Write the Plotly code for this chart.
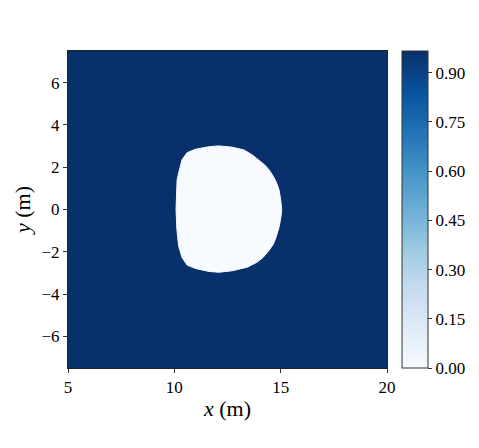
import plotly.graph_objects as go

# Domain extents (m)
x_edges = [5.0, 20.0]
y_edges = [-7.5, 7.5]

# Field level outside the body and inside it
outside_level = 0.966
inside_level = 0.0

# Boundary of the low-valued region (m)
boundary_x = [10.08, 10.09, 10.13, 10.20, 10.36, 10.60, 10.99, 11.62, 12.09, 12.72,
              13.27, 13.67, 13.98, 14.25, 14.45, 14.66, 14.81, 14.92, 15.00, 15.05,
              15.01, 14.92, 14.78, 14.66, 14.45, 14.18, 13.90, 13.43, 12.72, 12.09,
              11.62, 10.99, 10.60, 10.36, 10.20, 10.12, 10.08]
boundary_y = [0.00, 0.94, 1.40, 1.72, 2.35, 2.69, 2.85, 2.97, 3.01, 2.95,
              2.82, 2.58, 2.35, 2.11, 1.88, 1.56, 1.25, 0.94, 0.47, 0.00,
              -0.38, -0.85, -1.32, -1.63, -1.94, -2.26, -2.49, -2.73, -2.90, -2.97,
              -2.93, -2.79, -2.63, -2.27, -1.72, -0.94, 0.00]

# Colorbar ticks
cbar_ticks = [0.0, 0.15, 0.30, 0.45, 0.60, 0.75, 0.90]
x_ticks = [5, 10, 15, 20]
y_ticks = [-6, -4, -2, 0, 2, 4, 6]

blues = ["#f7fbff", "#deebf7", "#c6dbef", "#9ecae1", "#6baed6",
         "#4292c6", "#2171b5", "#08519c", "#08306b"]
colorscale = [[i / (len(blues) - 1), c] for i, c in enumerate(blues)]

font_family = "Liberation Serif"

fig = go.Figure()
fig.add_trace(go.Heatmap(
    x=x_edges, y=y_edges,
    z=[[outside_level, outside_level], [outside_level, outside_level]],
    zmin=inside_level, zmax=outside_level,
    colorscale=colorscale,
    showscale=True,
    hoverinfo="skip",
    colorbar=dict(
        x=1.047, xanchor="left", y=0.5, yanchor="middle",
        len=1.0, lenmode="fraction", xpad=0, ypad=0,
        thickness=26, thicknessmode="pixels",
        outlinewidth=1, outlinecolor="#333333",
        tickvals=cbar_ticks, ticktext=[f"{v:.2f}" for v in cbar_ticks],
        ticks="outside", ticklen=4, tickcolor="#333333",
        tickfont=dict(family=font_family, size=17, color="black"),
    ),
))
fig.add_trace(go.Scatter(
    x=boundary_x, y=boundary_y,
    mode="lines", fill="toself",
    fillcolor=blues[0], line=dict(color=blues[0], width=1),
    hoverinfo="skip", showlegend=False,
))

fig.update_layout(
    width=479, height=448,
    margin=dict(l=68, r=92, t=51, b=80, autoexpand=False),
    paper_bgcolor="white", plot_bgcolor="white",
    font=dict(family=font_family, size=17, color="black"),
    showlegend=False,
)
fig.update_xaxes(
    range=x_edges, tickvals=x_ticks, ticks="outside", ticklen=4, tickcolor="#333333",
    showline=True, linecolor="#222222", linewidth=1, mirror=True,
    showgrid=False, zeroline=False, automargin=False,
    title=dict(text="<i>x</i> (m)", font=dict(size=22), standoff=4),
)
fig.update_yaxes(
    range=y_edges, tickvals=y_ticks, ticks="outside", ticklen=4, tickcolor="#333333",
    showline=True, linecolor="#222222", linewidth=1, mirror=True,
    showgrid=False, zeroline=False, automargin=False,
    title=dict(text="<i>y</i> (m)", font=dict(size=22), standoff=4),
    tickformat="d",
)

fig.write_html("out.html", config={"displayModeBar": False},
               post_script="document.body.style.margin='0';")
